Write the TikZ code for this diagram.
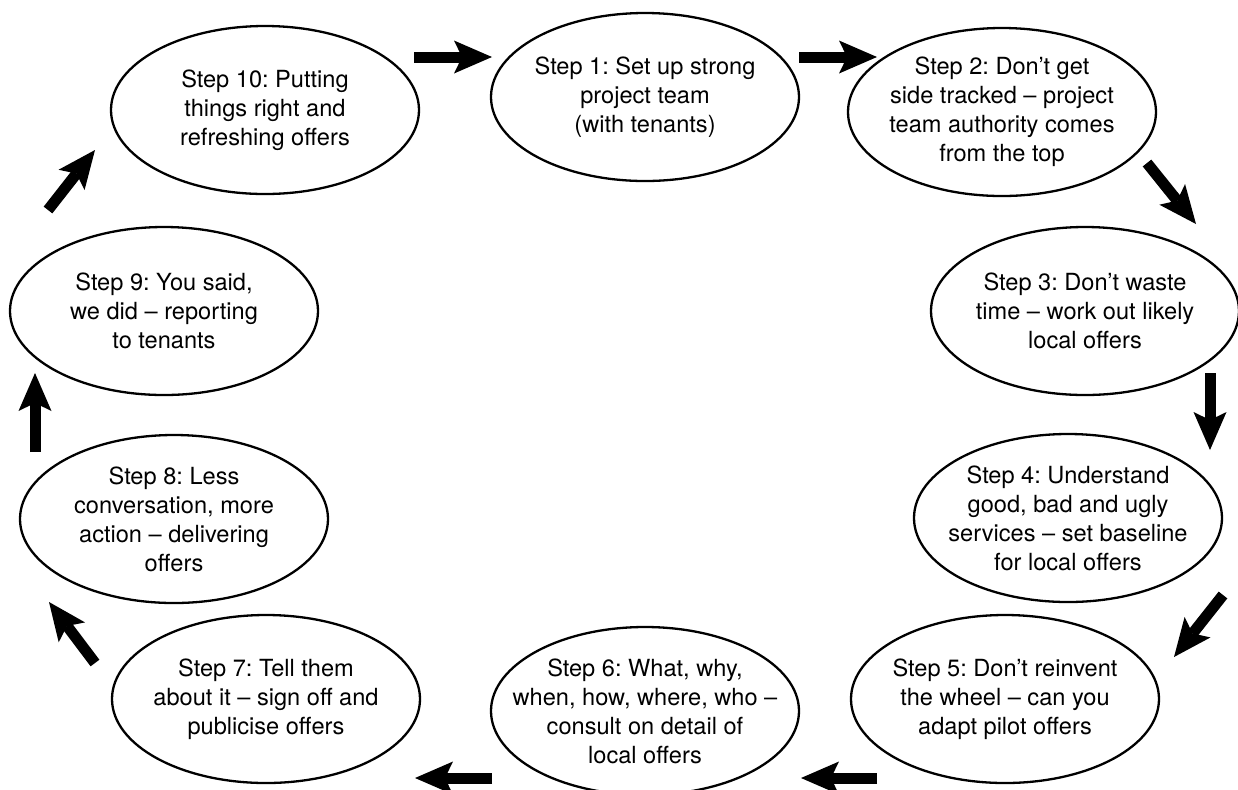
\documentclass[tikz,border=0pt]{standalone}
\usepackage{fontspec}
\setmainfont{TeX Gyre Heros}
\usetikzlibrary{shapes.geometric,arrows.meta}
\frenchspacing
\newcommand{\stepfont}{\fontsize{11.8}{14.5}\selectfont}
\tikzset{
  stepbox/.style={ellipse, draw, line width=1.15pt, minimum width=154pt, minimum height=84pt, inner sep=0pt},
  steptext/.style={align=center, font=\stepfont, inner sep=0pt},
  bigarrow/.style={line width=5.5pt, -{Stealth[length=19pt, width=16.5pt, inset=4pt, line width=0pt]}}
}
\begin{document}
\begin{tikzpicture}[x=0.5pt, y=-0.5pt]
                \useasboundingbox (0,0) rectangle (1238,789);
                % the ten steps, clockwise from the top
                \node[stepbox, label={[steptext]center:Step 1: Set up strong\\project team\\(with tenants)}] (s1) at (645,97) {};
                \node[stepbox, label={[steptext]center:Step 2: Don’t get\\side tracked – project\\team authority comes\\from the top}] (s2) at (1002,112) {};
                \node[stepbox, label={[steptext]center:Step 3: Don’t waste\\time – work out likely\\local offers}] (s3) at (1085,311) {};
                \node[stepbox, label={[steptext]center:Step 4: Understand\\good, bad and ugly\\services – set baseline\\for local offers}] (s4) at (1068,518) {};
                \node[stepbox, label={[steptext]center:Step 5: Don’t reinvent\\the wheel – can you\\adapt pilot offers}] (s5) at (1005,699) {};
                \node[stepbox, label={[steptext]center:Step 6: What, why,\\when, how, where, who –\\consult on detail of\\local offers}] (s6) at (645,711) {};
                \node[stepbox, label={[steptext]center:Step 7: Tell them\\about it – sign off and\\publicise offers}] (s7) at (266,699) {};
                \node[stepbox, label={[steptext]center:Step 8: Less\\conversation, more\\action – delivering\\offers}] (s8) at (174,519) {};
                \node[stepbox, label={[steptext]center:Step 9: You said,\\we did – reporting\\to tenants}] (s9) at (164,311) {};
                \node[stepbox, label={[steptext]center:Step 10: Putting\\things right and\\refreshing offers}] (s10) at (265,110) {};
                % arrows between the steps
                \foreach \n/\tx/\ty/\hx/\hy in {1/414/57/492/57, 2/799/57/877/57, 3/1147/163/1196/224,
                    4/1210/373/1210/450, 5/1223/595/1174/657, 6/877/778/801/778, 7/492/778/415/778,
                    8/95/663/49/602, 9/35/452/35/373, 10/48/210/95/150} {
                    \coordinate (tail\n) at (\tx,\ty);
                    \coordinate (head\n) at (\hx,\hy);
                    \draw[bigarrow] (tail\n) -- (head\n);
                }
\end{tikzpicture}
\end{document}
